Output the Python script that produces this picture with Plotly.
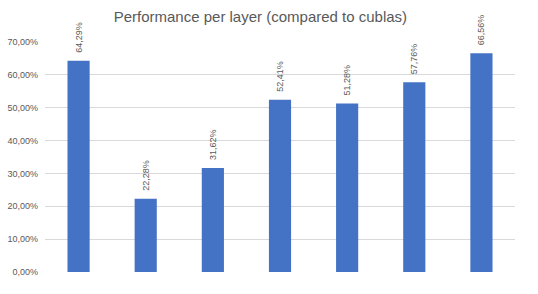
import plotly.graph_objects as go

categories = ["1", "2", "3", "4", "5", "6", "7"]
values = [0.6429, 0.2228, 0.3162, 0.5241, 0.5128, 0.5776, 0.6656]
labels = ["64,29%", "22,28%", "31,62%", "52,41%", "51,28%", "57,76%", "66,56%"]
tick_vals = [0, 0.1, 0.2, 0.3, 0.4, 0.5, 0.6, 0.7]

fig = go.Figure(go.Bar(
    x=categories, y=values, text=["\u00a0\u00a0" + s for s in labels],
    textposition="outside", textangle=-90, constraintext="none",
    cliponaxis=False,
    textfont=dict(size=9, color="#595959"),
    marker=dict(color="#4472C4", line=dict(width=0)),
    width=0.33,
    hoverinfo="skip",
))

fig.update_layout(
    width=538, height=294,
    margin=dict(l=45, r=23, t=42, b=22, autoexpand=False),
    paper_bgcolor="white", plot_bgcolor="white",
    separators=", ",
    font=dict(family="Liberation Sans, Arial, sans-serif", color="#595959"),
    title=dict(text="Performance per layer (compared to cublas)", x=0.484, xanchor="center",
               yref="container", y=0.942, yanchor="middle", automargin=False,
               font=dict(size=15, color="#595959")),
    showlegend=False,
)
fig.update_xaxes(showticklabels=False, showgrid=False, zeroline=False, showline=False,
                 automargin=False)
fig.update_yaxes(range=[0, 0.7], tickvals=tick_vals, tickformat=".2%",
                 gridcolor="#D9D9D9", gridwidth=1, zeroline=False, showline=False,
                 tickfont=dict(size=9, color="#595959"), ticks="", ticklabelstandoff=6,
                 automargin=False)

fig.write_html("out.html", config={"displayModeBar": False},
               post_script="document.body.style.margin='0';")
